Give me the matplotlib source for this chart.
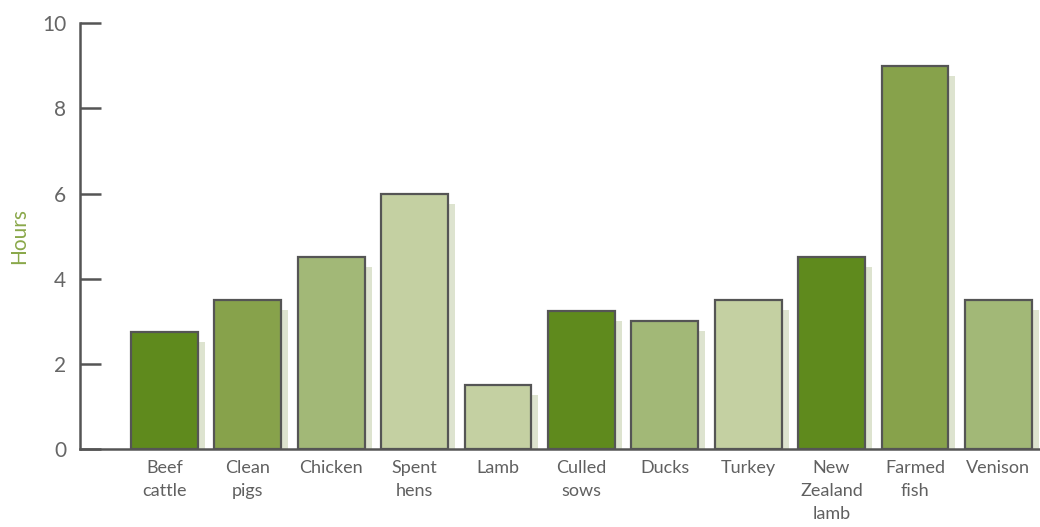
import matplotlib
matplotlib.use('Agg')
import matplotlib.pyplot as plt
import numpy as np

categories = ["Beef\ncattle", "Clean\npigs", "Chicken", "Spent\nhens", "Lamb",
              "Culled\nsows", "Ducks", "Turkey", "New\nZealand\nlamb",
              "Farmed\nfish", "Venison"]
hours = [2.75, 3.5, 4.5, 6.0, 1.5, 3.25, 3.0, 3.5, 4.5, 9.0, 3.5]
bar_colors = ["#5f8a1d", "#87a24b", "#a2b877", "#c4d0a2", "#c4d0a2",
              "#5f8a1d", "#a2b877", "#c4d0a2", "#5f8a1d", "#87a24b", "#a2b877"]
yticks = [0, 2, 4, 6, 8, 10]

plt.rcParams['font.family'] = ['Lato', 'DejaVu Sans']

fig = plt.figure(figsize=(10.4, 5.27), dpi=100)
ax = fig.add_axes([0.0769, 0.148, 0.9231, 0.808])

x = np.arange(len(hours))
width = 0.8
# drop shadow behind each bar
shadow_dx = 0.084
shadow_dy = 0.235
ax.bar(x + shadow_dx, np.array(hours) - shadow_dy, width=width,
       color="#dde3cf", edgecolor="none", zorder=1)
ax.bar(x, hours, width=width, color=bar_colors, edgecolor="#555555",
       linewidth=1.6, zorder=2)

ax.set_xlim(-1.013, 10.5)
ax.set_ylim(0, 10)
ax.set_yticks(yticks)
ax.set_xticks(x)
ax.set_xticklabels(categories, fontsize=13, color="#606060",
                   linespacing=1.55)
ax.tick_params(axis='x', length=0, pad=8)
ax.tick_params(axis='y', direction='in', length=15, width=1.8,
               color="#555555", labelsize=15, labelcolor="#666666", pad=10)

for s in ['top', 'right']:
    ax.spines[s].set_visible(False)
for s in ['left', 'bottom']:
    ax.spines[s].set_color("#555555")
    ax.spines[s].set_linewidth(1.8)

ax.set_ylabel("Hours", fontsize=15, color="#8aa84a")
ax.yaxis.set_label_coords(-0.053, 0.5)

plt.savefig("out.png")
